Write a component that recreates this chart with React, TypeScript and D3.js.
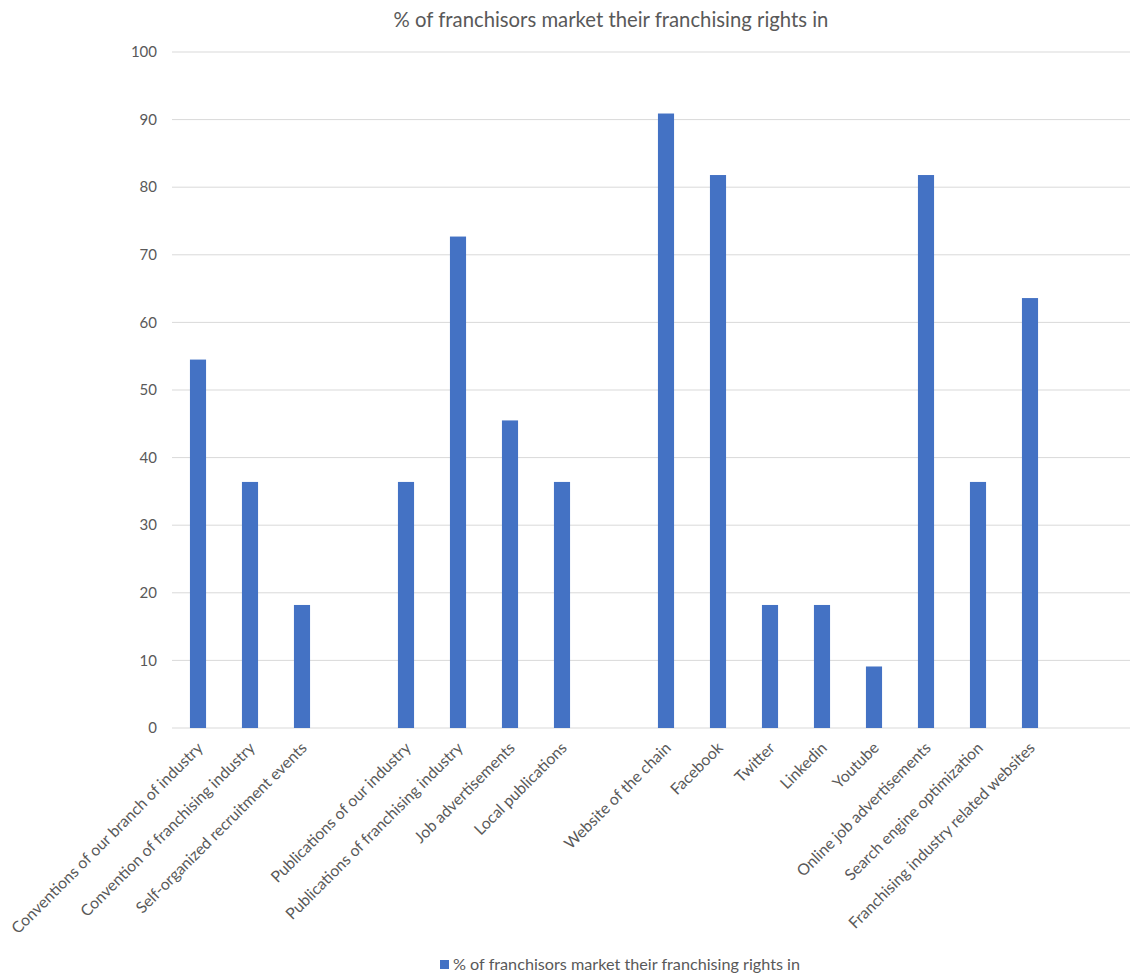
import React from "react";
import * as d3 from "d3";

const categories: string[] = [
  "Conventions of our branch of industry",
  "Convention of franchising industry",
  "Self-organized recruitment events",
  "",
  "Publications of our industry",
  "Publications of franchising industry",
  "Job advertisements",
  "Local publications",
  "",
  "Website of the chain",
  "Facebook",
  "Twitter",
  "Linkedin",
  "Youtube",
  "Online job advertisements",
  "Search engine optimization",
  "Franchising industry related websites",
  "",
  "",
];

const values: (number | null)[] = [
  54.5, 36.4, 18.2, null, 36.4, 72.7, 45.5, 36.4, null, 90.9, 81.8, 18.2, 18.2, 9.1,
  81.8, 36.4, 63.6, null, null,
];

const yTicks: number[] = [0, 10, 20, 30, 40, 50, 60, 70, 80, 90, 100];

const seriesName = "% of franchisors market their franchising rights in";

const W = 1130;
const H = 974;
const FONT = "Lato, 'Open Sans', sans-serif";
const TEXT = "#595959";
const BAR = "#4472C4";
const GRID = "#d9d9d9";

export default function App() {
  const keys = categories.map((_, i) => String(i));
  const x = d3
    .scaleBand<string>()
    .domain(keys)
    .range([172, 172 + 52 * categories.length])
    .paddingInner(0.69)
    .paddingOuter(0.345);
  const y = d3.scaleLinear().domain([0, 100]).range([728, 52]);

  return (
    <svg
      width={W}
      height={H}
      style={{ position: "absolute", left: 0, top: 0, background: "#fff" }}
      fontFamily={FONT}
    >
      <text x={611} y={27} textAnchor="middle" fontSize={20.3} fill={TEXT}>
        {seriesName}
      </text>

      {yTicks.map((t) => (
        <g key={t}>
          <line x1={172} x2={W} y1={y(t)} y2={y(t)} stroke={GRID} strokeWidth={1} />
          <text
            x={157}
            y={y(t)}
            dy="0.35em"
            textAnchor="end"
            fontSize={15}
            fill={TEXT}
          >
            {t}
          </text>
        </g>
      ))}

      {values.map((v, i) =>
        v == null ? null : (
          <rect
            key={i}
            x={x(keys[i])!}
            y={y(v)}
            width={x.bandwidth()}
            height={y(0) - y(v)}
            fill={BAR}
          />
        )
      )}

      {categories.map((c, i) =>
        c === "" ? null : (
          <text
            key={i}
            transform={`translate(${x(keys[i])! + x.bandwidth() / 2 + 2},${745}) rotate(-45)`}
            textAnchor="end"
            dy="0.35em"
            fontSize={15.8}
            fill={TEXT}
          >
            {c}
          </text>
        )
      )}

      <rect x={440} y={960} width={9} height={9} fill={BAR} />
      <text x={453} y={970} fontSize={16.2} fill={TEXT}>
        {seriesName}
      </text>
    </svg>
  );
}
